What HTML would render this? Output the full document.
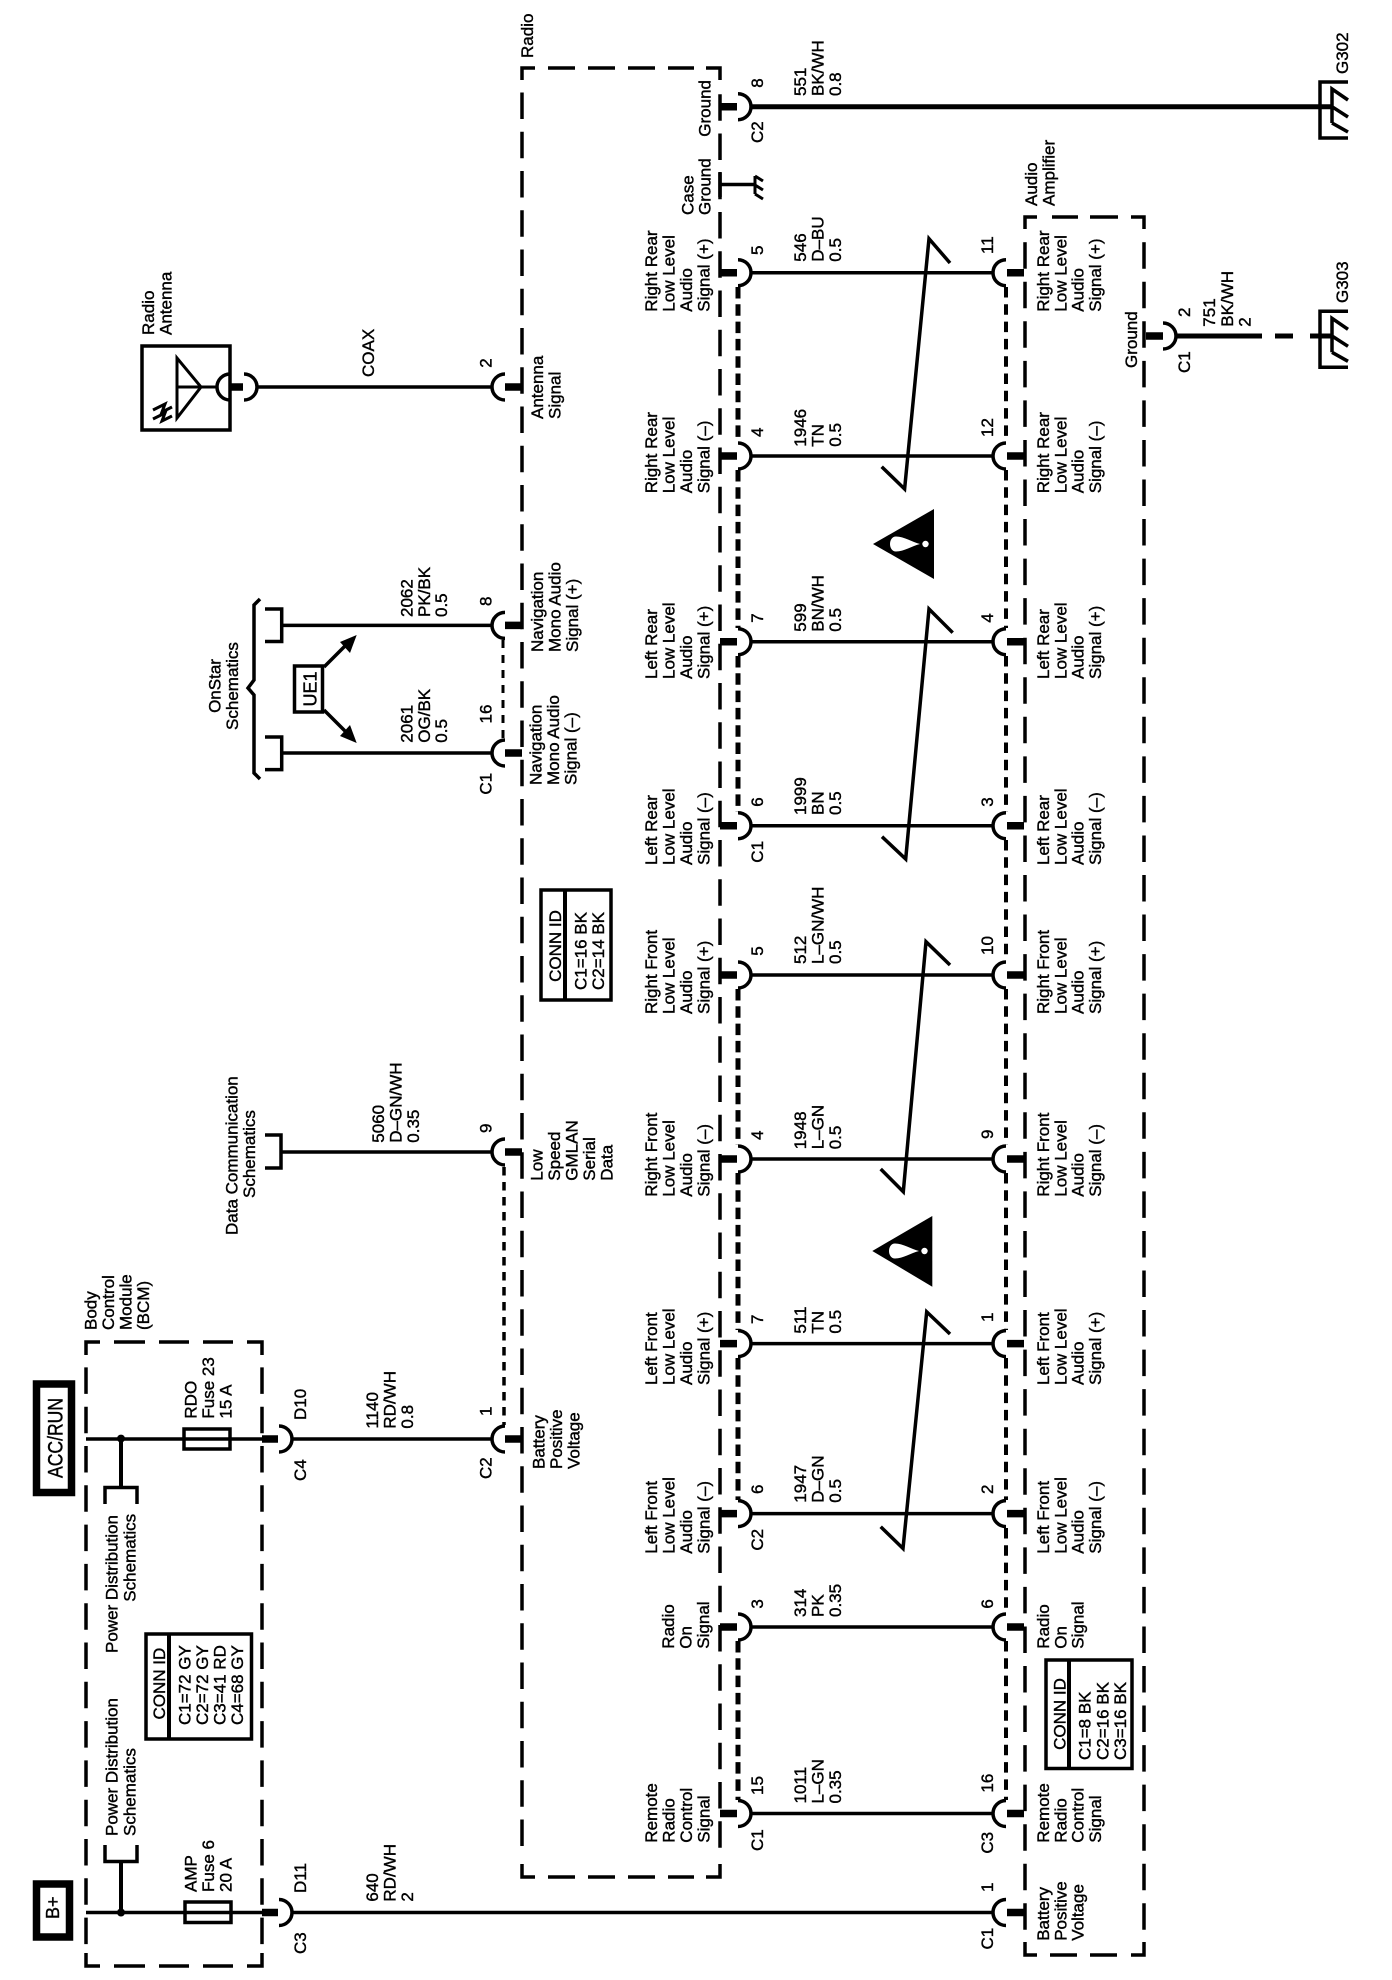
<!DOCTYPE html>
<html>
<head>
<meta charset="utf-8">
<title>Radio and Audio Amplifier Schematic</title>
<style>
html,body{margin:0;padding:0;background:#fff}
svg{display:block}
text{font-family:"Liberation Sans",sans-serif;font-size:17px;fill:#000;stroke:#000;stroke-width:.4}
.w{stroke:#000;stroke-width:3.5;fill:none}
.t{stroke:#000;stroke-width:5;fill:none}
.s{stroke:#000;stroke-width:7.5;fill:none}
.c{stroke:#000;stroke-width:3.5;fill:none}
.b{stroke:#000;stroke-width:3.5;fill:none}
</style>
</head>
<body>
<svg width="1392" height="1980" viewBox="0 0 1392 1980" xmlns="http://www.w3.org/2000/svg">
<rect width="1392" height="1980" fill="#fff"/>

<!-- Radio box -->
<g class="b">
<path d="M535 68H522V80M548 68H575M588 68H615M628 68H655M668 68H694M706 68H720V80"/>
<path d="M535 1877H522V1864M548 1877H575M588 1877H615M628 1877H655M668 1877H694M706 1877H720V1864"/>
<path d="M522 92.5V1852" stroke-dasharray="26.5 12.75"/>
<path d="M720 94.3V1852" stroke-dasharray="26.5 12.75"/>
</g>
<!-- Amp box -->
<g class="b">
<path d="M1037 217H1025V229M1052 217H1078M1090 217H1118M1131 217H1144V229"/>
<path d="M1037 1955H1025V1942M1050 1955H1077M1090 1955H1117M1131 1955H1144V1942"/>
<path d="M1025 242.2V1932" stroke-dasharray="26.5 13.05"/>
<path d="M1144 242.2V1932" stroke-dasharray="26.5 13.05"/>
</g>
<!-- BCM box -->
<g class="b">
<path d="M100 1342H86V1355M114 1342H145M159 1342H189M203 1342H233M247 1342H262V1355"/>
<path d="M100 1966H86V1953M114 1966H145M159 1966H189M203 1966H233M247 1966H262V1953"/>
<path d="M86 1367.4V1945" stroke-dasharray="26.5 12.8"/>
<path d="M262 1367.4V1945" stroke-dasharray="26.5 12.8"/>
</g>

<!-- Main wires radio-amp -->
<g class="w">
<path d="M751 272.7H993M751 456H993M751 641.7H993M751 825.7H993M751 975H993M751 1159H993M751 1343.6H993M751 1513.6H993M751 1627H993M751 1813.5H993"/>
<path d="M292 1912.5H993"/>
<path d="M292 1439H492"/>
<path d="M281 1152H492M281 625.4H492M281 753H492M257 387H492"/>
</g>
<!-- stubs radio right -->
<g class="s">
<path d="M720 106.7H737M720 272.7H737M720 456H737M720 641.7H737M720 825.7H737M720 975H737M720 1159H737M720 1343.6H737M720 1513.6H737M720 1627H737M720 1813.5H737"/>
<path d="M1007 272.7H1024M1007 456H1024M1007 641.7H1024M1007 825.7H1024M1007 975H1024M1007 1159H1024M1007 1343.6H1024M1007 1513.6H1024M1007 1627H1024M1007 1813.5H1024M1007 1912.5H1024"/>
<path d="M505 387H522M505 625.4H522M505 753H522M505 1152H522M505 1439H522"/>
<path d="M262 1439H278M262 1912.5H278"/>
<path d="M230 387H243M1146 336H1163"/>
</g>
<!-- Cups -->
<g class="c">
<path d="M738 93.7A13 13 0 0 1 738 119.7M738 259.7A13 13 0 0 1 738 285.7M738 443A13 13 0 0 1 738 469M738 628.7A13 13 0 0 1 738 654.7M738 812.7A13 13 0 0 1 738 838.7M738 962A13 13 0 0 1 738 988M738 1146A13 13 0 0 1 738 1172M738 1330.6A13 13 0 0 1 738 1356.6M738 1500.6A13 13 0 0 1 738 1526.6M738 1614A13 13 0 0 1 738 1640M738 1800.5A13 13 0 0 1 738 1826.5"/>
<path d="M1006 259.7A13 13 0 0 0 1006 285.7M1006 443A13 13 0 0 0 1006 469M1006 628.7A13 13 0 0 0 1006 654.7M1006 812.7A13 13 0 0 0 1006 838.7M1006 962A13 13 0 0 0 1006 988M1006 1146A13 13 0 0 0 1006 1172M1006 1330.6A13 13 0 0 0 1006 1356.6M1006 1500.6A13 13 0 0 0 1006 1526.6M1006 1614A13 13 0 0 0 1006 1640M1006 1800.5A13 13 0 0 0 1006 1826.5M1006 1899.5A13 13 0 0 0 1006 1925.5"/>
<path d="M505 374A13 13 0 0 0 505 400M505 612.4A13 13 0 0 0 505 638.4M505 740A13 13 0 0 0 505 766M505 1139A13 13 0 0 0 505 1165M505 1426A13 13 0 0 0 505 1452"/>
<path d="M279 1426A13 13 0 0 1 279 1452M279 1899.5A13 13 0 0 1 279 1925.5M244 374A13 13 0 0 1 244 400M1163 323A13 13 0 0 1 1163 349"/>
<path d="M230 374A13 13 0 0 0 230 400"/>
</g>
<!-- Dashed shield lines -->
<path d="M738 287V442M738 470V628M738 656V812M738 989V1145M738 1173V1330M738 1358V1500M738 1641V1800" stroke="#000" stroke-width="5" fill="none" stroke-dasharray="11.5 5.8"/>
<path d="M1006 287V442M1006 470V628M1006 656V812M1006 840V961M1006 989V1145M1006 1173V1330M1006 1358V1500M1006 1528V1613M1006 1641V1800" stroke="#000" stroke-width="4" fill="none" stroke-dasharray="10.5 6.8"/>
<path d="M504 1167V1425" stroke="#000" stroke-width="3.5" fill="none" stroke-dasharray="8.5 6.5"/>
<path d="M503 640V739" stroke="#000" stroke-width="3" fill="none" stroke-dasharray="8 7"/>

<!-- Ground wires -->
<path class="t" d="M751 106.7H1332"/>
<path class="t" d="M1176 336H1262M1275 336H1293M1310 336H1332"/>
<!-- Ground symbols -->
<g class="b">
<path d="M1348 82H1320V138H1348"/>
<path d="M1332 123V89L1348 100M1332 106.7L1348 117M1332 123L1348 132"/>
<path d="M1348 311.3H1320V367.3H1348"/>
<path d="M1332 352.3V318.3L1348 329.3M1332 336L1348 346.3M1332 352.3L1348 361.3"/>
<path d="M720 184.5H755"/>
<path d="M720 172V197"/>
<path d="M755 176V194M755 176L763 181M755 185L763 190M755 194L763 199" stroke-width="3"/>
</g>

<!-- Zigzag twists -->
<g fill="none" stroke="#000">
<path stroke-width="3.5" d="M950 263L929 238.7L904.6 489L881.7 466.7"/>
<path stroke-width="3.5" d="M952.7 632.7L929 609L905.7 859L882 836.7"/>
<path stroke-width="3.5" d="M950 965L926 941.7L903.3 1191.7L880.7 1169"/>
<path stroke-width="3.5" d="M950 1334L926.7 1311.8L903 1548.5L880.7 1526.7"/>
</g>
<!-- Warning triangles -->
<g>
<polygon points="873,544 934,509 934,579" fill="#000"/>
<path d="M896 536.5C888 536.5 888 551.5 896 551.5C904 551.5 912 546 920 544C912 542 904 536.5 896 536.5Z" fill="#fff"/>
<circle cx="925.5" cy="544" r="3.2" fill="#fff"/>
<polygon points="872.3,1251 932.3,1216 932.3,1286.7" fill="#000"/>
<path d="M895 1243.5C887 1243.5 887 1258.5 895 1258.5C903 1258.5 911 1253 919 1251C911 1249 903 1243.5 895 1243.5Z" fill="#fff"/>
<circle cx="924.5" cy="1251" r="3.2" fill="#fff"/>
</g>

<!-- BCM internals -->
<g class="w">
<path d="M86 1439H262M86 1912.5H262"/>
<path d="M121 1439V1487M121 1912.5V1861.5" stroke-width="4"/>
<path d="M105 1504V1487.5H137V1504M105 1845V1861.5H137V1845"/>
</g>
<circle cx="121" cy="1438.6" r="4" fill="#000"/>
<circle cx="121" cy="1912.5" r="4" fill="#000"/>
<rect x="184" y="1429" width="46" height="20" class="b"/>
<rect x="185" y="1902" width="46" height="20.5" class="b"/>

<!-- Power boxes -->
<rect x="36.5" y="1384" width="35" height="108.5" fill="#fff" stroke="#000" stroke-width="7.5"/>
<rect x="36.5" y="1884" width="33" height="53" fill="#fff" stroke="#000" stroke-width="7.5"/>
<text transform="translate(62.3,1478) rotate(-90)" style="font-size:21px" textLength="80" lengthAdjust="spacingAndGlyphs">ACC/RUN</text>
<text transform="translate(59,1919) rotate(-90)" style="font-size:18px">B+</text>

<!-- Conn ID boxes -->
<g class="b" fill="#fff">
<rect x="146" y="1634" width="105.5" height="105"/>
<path d="M169 1634V1739" stroke-width="4"/>
<rect x="541" y="890" width="70" height="110"/>
<path d="M565 890V1000" stroke-width="4"/>
<rect x="1046" y="1660" width="86" height="108.5"/>
<path d="M1069 1660V1768.5" stroke-width="4"/>
</g>

<!-- Antenna -->
<rect x="142" y="346" width="88" height="84" class="b"/>
<g class="b">
<path d="M177 358V418L201 387L177 358ZM177 387H218" stroke-width="3"/>
<path d="M153 410L165 404L162 412L172 407M153 419L165 413L162 421L172 416" stroke-width="3"/>
</g>

<!-- OnStar brackets -->
<g class="b">
<path d="M265 609H281.7V641.5H265"/>
<path d="M265 737H281.7V769.6H265"/>
<path d="M265 1135H281V1168H265"/>
<path d="M260 599L254 605V680L248 688L254 695V773L260 779"/>
<rect x="294.5" y="666" width="28" height="46"/>
<path d="M324 667L345 646M324 710L345 731"/>
</g>
<polygon points="356.7,635 340,642 350,653" fill="#000"/>
<polygon points="356.7,743 340,736 350,725" fill="#000"/>

<!-- TEXT: BCM area -->
<text transform="translate(96.7,1330) rotate(-90)"><tspan x="0">Body</tspan><tspan x="0" dy="17.4">Control</tspan><tspan x="0" dy="17.4">Module</tspan><tspan x="0" dy="17.4">(BCM)</tspan></text>
<text transform="translate(117.3,1653) rotate(-90)">Power Distribution</text>
<text transform="translate(135.7,1601.7) rotate(-90)">Schematics</text>
<text transform="translate(117.3,1836) rotate(-90)"><tspan x="0">Power Distribution</tspan><tspan x="0" dy="18.3">Schematics</tspan></text>
<text transform="translate(196.7,1418.6) rotate(-90)"><tspan x="0">RDO</tspan><tspan x="0" dy="17.4">Fuse 23</tspan><tspan x="0" dy="17.4">15 A</tspan></text>
<text transform="translate(196.7,1892) rotate(-90)"><tspan x="0">AMP</tspan><tspan x="0" dy="17.4">Fuse 6</tspan><tspan x="0" dy="17.4">20 A</tspan></text>
<text transform="translate(165,1683.6) rotate(-90)" text-anchor="middle">CONN ID</text>
<text transform="translate(190.7,1725) rotate(-90)"><tspan x="0">C1=72 GY</tspan><tspan x="0" dy="17.5">C2=72 GY</tspan><tspan x="0" dy="17.5">C3=41 RD</tspan><tspan x="0" dy="17.5">C4=68 GY</tspan></text>
<text transform="translate(306,1420) rotate(-90)">D10</text>
<text transform="translate(306,1481) rotate(-90)">C4</text>
<text transform="translate(306,1893) rotate(-90)">D11</text>
<text transform="translate(306,1954) rotate(-90)">C3</text>
<text transform="translate(378,1428.6) rotate(-90)"><tspan x="0">1140</tspan><tspan x="0" dy="17.4">RD/WH</tspan><tspan x="0" dy="17.4">0.8</tspan></text>
<text transform="translate(378,1901.6) rotate(-90)"><tspan x="0">640</tspan><tspan x="0" dy="17.4">RD/WH</tspan><tspan x="0" dy="17.4">2</tspan></text>
<text transform="translate(491.7,1416) rotate(-90)">1</text>
<text transform="translate(491.7,1479) rotate(-90)">C2</text>

<!-- TEXT: radio left side -->
<text transform="translate(154,335) rotate(-90)"><tspan x="0">Radio</tspan><tspan x="0" dy="17.4">Antenna</tspan></text>
<text transform="translate(374,377) rotate(-90)">COAX</text>
<text transform="translate(491.7,367.7) rotate(-90)">2</text>
<text transform="translate(543,419) rotate(-90)"><tspan x="0">Antenna</tspan><tspan x="0" dy="17.4">Signal</tspan></text>
<text transform="translate(220.7,686) rotate(-90)" text-anchor="middle"><tspan x="0">OnStar</tspan><tspan x="0" dy="17.4">Schematics</tspan></text>
<text transform="translate(316.7,689) rotate(-90)" text-anchor="middle" style="font-size:18px">UE1</text>
<text transform="translate(412.7,617) rotate(-90)"><tspan x="0">2062</tspan><tspan x="0" dy="17.2">PK/BK</tspan><tspan x="0" dy="17.2">0.5</tspan></text>
<text transform="translate(412.7,742.7) rotate(-90)"><tspan x="0">2061</tspan><tspan x="0" dy="17.2">OG/BK</tspan><tspan x="0" dy="17.2">0.5</tspan></text>
<text transform="translate(491.7,606) rotate(-90)">8</text>
<text transform="translate(491.7,723.5) rotate(-90)">16</text>
<text transform="translate(491.7,794.6) rotate(-90)">C1</text>
<text transform="translate(543,652) rotate(-90)"><tspan x="0">Navigation</tspan><tspan x="0" dy="17.5">Mono Audio</tspan><tspan x="0" dy="17.5">Signal (+)</tspan></text>
<text transform="translate(541.7,785) rotate(-90)"><tspan x="0">Navigation</tspan><tspan x="0" dy="17.5">Mono Audio</tspan><tspan x="0" dy="17.5">Signal (–)</tspan></text>
<text transform="translate(237.7,1235) rotate(-90)">Data Communication</text>
<text transform="translate(255,1198) rotate(-90)">Schematics</text>
<text transform="translate(384,1142.7) rotate(-90)"><tspan x="0">5060</tspan><tspan x="0" dy="17.6">D–GN/WH</tspan><tspan x="0" dy="17.6">0.35</tspan></text>
<text transform="translate(491.7,1133) rotate(-90)">9</text>
<text transform="translate(542.7,1180.7) rotate(-90)"><tspan x="0">Low</tspan><tspan x="0" dy="17.5">Speed</tspan><tspan x="0" dy="17.5">GMLAN</tspan><tspan x="0" dy="17.5">Serial</tspan><tspan x="0" dy="17.5">Data</tspan></text>
<text transform="translate(544.3,1469) rotate(-90)"><tspan x="0">Battery</tspan><tspan x="0" dy="17.7">Positive</tspan><tspan x="0" dy="17.7">Voltage</tspan></text>
<text transform="translate(561,946) rotate(-90)" text-anchor="middle">CONN ID</text>
<text transform="translate(586.7,990) rotate(-90)"><tspan x="0">C1=16 BK</tspan><tspan x="0" dy="17.4">C2=14 BK</tspan></text>
<text transform="translate(533,58) rotate(-90)">Radio</text>

<!-- TEXT: radio right labels -->
<text transform="translate(710.5,136.7) rotate(-90)">Ground</text>
<text transform="translate(693.5,215) rotate(-90)"><tspan x="0">Case</tspan><tspan x="0" dy="17.2">Ground</tspan></text>
<text transform="translate(657,311.7) rotate(-90)"><tspan x="0">Right Rear</tspan><tspan x="0" dy="17.5">Low Level</tspan><tspan x="0" dy="17.5">Audio</tspan><tspan x="0" dy="17.5">Signal (+)</tspan></text>
<text transform="translate(657,493.3) rotate(-90)"><tspan x="0">Right Rear</tspan><tspan x="0" dy="17.5">Low Level</tspan><tspan x="0" dy="17.5">Audio</tspan><tspan x="0" dy="17.5">Signal (–)</tspan></text>
<text transform="translate(657,679) rotate(-90)"><tspan x="0">Left Rear</tspan><tspan x="0" dy="17.5">Low Level</tspan><tspan x="0" dy="17.5">Audio</tspan><tspan x="0" dy="17.5">Signal (+)</tspan></text>
<text transform="translate(657,865) rotate(-90)"><tspan x="0">Left Rear</tspan><tspan x="0" dy="17.5">Low Level</tspan><tspan x="0" dy="17.5">Audio</tspan><tspan x="0" dy="17.5">Signal (–)</tspan></text>
<text transform="translate(657,1014) rotate(-90)"><tspan x="0">Right Front</tspan><tspan x="0" dy="17.5">Low Level</tspan><tspan x="0" dy="17.5">Audio</tspan><tspan x="0" dy="17.5">Signal (+)</tspan></text>
<text transform="translate(657,1196.7) rotate(-90)"><tspan x="0">Right Front</tspan><tspan x="0" dy="17.5">Low Level</tspan><tspan x="0" dy="17.5">Audio</tspan><tspan x="0" dy="17.5">Signal (–)</tspan></text>
<text transform="translate(657,1385) rotate(-90)"><tspan x="0">Left Front</tspan><tspan x="0" dy="17.5">Low Level</tspan><tspan x="0" dy="17.5">Audio</tspan><tspan x="0" dy="17.5">Signal (+)</tspan></text>
<text transform="translate(657,1553.7) rotate(-90)"><tspan x="0">Left Front</tspan><tspan x="0" dy="17.5">Low Level</tspan><tspan x="0" dy="17.5">Audio</tspan><tspan x="0" dy="17.5">Signal (–)</tspan></text>
<text transform="translate(674,1648.7) rotate(-90)"><tspan x="0">Radio</tspan><tspan x="0" dy="17.5">On</tspan><tspan x="0" dy="17.5">Signal</tspan></text>
<text transform="translate(657,1842.7) rotate(-90)"><tspan x="0">Remote</tspan><tspan x="0" dy="17.5">Radio</tspan><tspan x="0" dy="17.5">Control</tspan><tspan x="0" dy="17.5">Signal</tspan></text>

<!-- TEXT: radio pins -->
<text transform="translate(763,87.7) rotate(-90)">8</text>
<text transform="translate(763,143) rotate(-90)">C2</text>
<text transform="translate(763,255) rotate(-90)">5</text>
<text transform="translate(763,437) rotate(-90)">4</text>
<text transform="translate(763,622.7) rotate(-90)">7</text>
<text transform="translate(763,806.7) rotate(-90)">6</text>
<text transform="translate(763,862.7) rotate(-90)">C1</text>
<text transform="translate(763,955.7) rotate(-90)">5</text>
<text transform="translate(763,1140) rotate(-90)">4</text>
<text transform="translate(763,1324) rotate(-90)">7</text>
<text transform="translate(763,1494) rotate(-90)">6</text>
<text transform="translate(763,1550.6) rotate(-90)">C2</text>
<text transform="translate(763,1608.6) rotate(-90)">3</text>
<text transform="translate(763,1795) rotate(-90)">15</text>
<text transform="translate(763,1851) rotate(-90)">C1</text>

<!-- TEXT: wire labels -->
<text transform="translate(806,96) rotate(-90)"><tspan x="0">551</tspan><tspan x="0" dy="17.6">BK/WH</tspan><tspan x="0" dy="17.6">0.8</tspan></text>
<text transform="translate(806,261.7) rotate(-90)"><tspan x="0">546</tspan><tspan x="0" dy="17.6">D–BU</tspan><tspan x="0" dy="17.6">0.5</tspan></text>
<text transform="translate(806,446.7) rotate(-90)"><tspan x="0">1946</tspan><tspan x="0" dy="17.6">TN</tspan><tspan x="0" dy="17.6">0.5</tspan></text>
<text transform="translate(806,631.7) rotate(-90)"><tspan x="0">599</tspan><tspan x="0" dy="17.6">BN/WH</tspan><tspan x="0" dy="17.6">0.5</tspan></text>
<text transform="translate(806,815) rotate(-90)"><tspan x="0">1999</tspan><tspan x="0" dy="17.6">BN</tspan><tspan x="0" dy="17.6">0.5</tspan></text>
<text transform="translate(806,964) rotate(-90)"><tspan x="0">512</tspan><tspan x="0" dy="17.6">L–GN/WH</tspan><tspan x="0" dy="17.6">0.5</tspan></text>
<text transform="translate(806,1149.3) rotate(-90)"><tspan x="0">1948</tspan><tspan x="0" dy="17.6">L–GN</tspan><tspan x="0" dy="17.6">0.5</tspan></text>
<text transform="translate(806,1333.6) rotate(-90)"><tspan x="0">511</tspan><tspan x="0" dy="17.6">TN</tspan><tspan x="0" dy="17.6">0.5</tspan></text>
<text transform="translate(806,1502.7) rotate(-90)"><tspan x="0">1947</tspan><tspan x="0" dy="17.6">D–GN</tspan><tspan x="0" dy="17.6">0.5</tspan></text>
<text transform="translate(806,1617) rotate(-90)"><tspan x="0">314</tspan><tspan x="0" dy="17.6">PK</tspan><tspan x="0" dy="17.6">0.35</tspan></text>
<text transform="translate(806,1803.5) rotate(-90)"><tspan x="0">1011</tspan><tspan x="0" dy="17.6">L–GN</tspan><tspan x="0" dy="17.6">0.35</tspan></text>

<!-- TEXT: amp pins -->
<text transform="translate(993,254) rotate(-90)">11</text>
<text transform="translate(993,437) rotate(-90)">12</text>
<text transform="translate(993,622.7) rotate(-90)">4</text>
<text transform="translate(993,806.7) rotate(-90)">3</text>
<text transform="translate(993,955) rotate(-90)">10</text>
<text transform="translate(993,1139) rotate(-90)">9</text>
<text transform="translate(993,1322) rotate(-90)">1</text>
<text transform="translate(993,1494) rotate(-90)">2</text>
<text transform="translate(993,1608.6) rotate(-90)">6</text>
<text transform="translate(993,1792.6) rotate(-90)">16</text>
<text transform="translate(993,1892) rotate(-90)">1</text>
<text transform="translate(993,1949.5) rotate(-90)">C1</text>
<text transform="translate(993,1853.6) rotate(-90)">C3</text>

<!-- TEXT: amp labels -->
<text transform="translate(1037,206) rotate(-90)"><tspan x="0">Audio</tspan><tspan x="0" dy="17.6">Amplifier</tspan></text>
<text transform="translate(1049,311.7) rotate(-90)"><tspan x="0">Right Rear</tspan><tspan x="0" dy="17.3">Low Level</tspan><tspan x="0" dy="17.3">Audio</tspan><tspan x="0" dy="17.3">Signal (+)</tspan></text>
<text transform="translate(1049,493.3) rotate(-90)"><tspan x="0">Right Rear</tspan><tspan x="0" dy="17.3">Low Level</tspan><tspan x="0" dy="17.3">Audio</tspan><tspan x="0" dy="17.3">Signal (–)</tspan></text>
<text transform="translate(1049,679) rotate(-90)"><tspan x="0">Left Rear</tspan><tspan x="0" dy="17.3">Low Level</tspan><tspan x="0" dy="17.3">Audio</tspan><tspan x="0" dy="17.3">Signal (+)</tspan></text>
<text transform="translate(1049,865) rotate(-90)"><tspan x="0">Left Rear</tspan><tspan x="0" dy="17.3">Low Level</tspan><tspan x="0" dy="17.3">Audio</tspan><tspan x="0" dy="17.3">Signal (–)</tspan></text>
<text transform="translate(1049,1014) rotate(-90)"><tspan x="0">Right Front</tspan><tspan x="0" dy="17.3">Low Level</tspan><tspan x="0" dy="17.3">Audio</tspan><tspan x="0" dy="17.3">Signal (+)</tspan></text>
<text transform="translate(1049,1196.7) rotate(-90)"><tspan x="0">Right Front</tspan><tspan x="0" dy="17.3">Low Level</tspan><tspan x="0" dy="17.3">Audio</tspan><tspan x="0" dy="17.3">Signal (–)</tspan></text>
<text transform="translate(1049,1385) rotate(-90)"><tspan x="0">Left Front</tspan><tspan x="0" dy="17.3">Low Level</tspan><tspan x="0" dy="17.3">Audio</tspan><tspan x="0" dy="17.3">Signal (+)</tspan></text>
<text transform="translate(1049,1553.7) rotate(-90)"><tspan x="0">Left Front</tspan><tspan x="0" dy="17.3">Low Level</tspan><tspan x="0" dy="17.3">Audio</tspan><tspan x="0" dy="17.3">Signal (–)</tspan></text>
<text transform="translate(1049,1648.7) rotate(-90)"><tspan x="0">Radio</tspan><tspan x="0" dy="17.3">On</tspan><tspan x="0" dy="17.3">Signal</tspan></text>
<text transform="translate(1049,1842.7) rotate(-90)"><tspan x="0">Remote</tspan><tspan x="0" dy="17.3">Radio</tspan><tspan x="0" dy="17.3">Control</tspan><tspan x="0" dy="17.3">Signal</tspan></text>
<text transform="translate(1049,1940.8) rotate(-90)"><tspan x="0">Battery</tspan><tspan x="0" dy="17.3">Positive</tspan><tspan x="0" dy="17.3">Voltage</tspan></text>
<text transform="translate(1065.7,1714) rotate(-90)" text-anchor="middle">CONN ID</text>
<text transform="translate(1090.7,1760) rotate(-90)"><tspan x="0">C1=8 BK</tspan><tspan x="0" dy="17.6">C2=16 BK</tspan><tspan x="0" dy="17.6">C3=16 BK</tspan></text>

<!-- TEXT: right side grounds -->
<text transform="translate(1137,368) rotate(-90)">Ground</text>
<text transform="translate(1190,317) rotate(-90)">2</text>
<text transform="translate(1190,373) rotate(-90)">C1</text>
<text transform="translate(1215,326.7) rotate(-90)"><tspan x="0">751</tspan><tspan x="0" dy="17.8">BK/WH</tspan><tspan x="0" dy="17.8">2</tspan></text>
<text transform="translate(1348,74) rotate(-90)">G302</text>
<text transform="translate(1348,303) rotate(-90)">G303</text>
</svg>
</body>
</html>
